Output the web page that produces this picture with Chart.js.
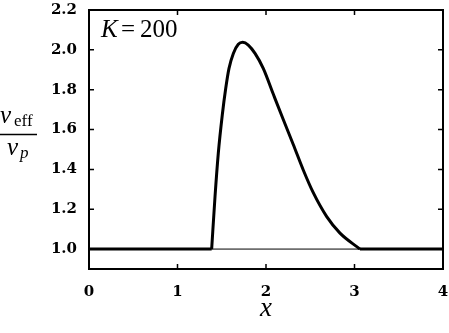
<!DOCTYPE html>
<html>
<head>
<meta charset="utf-8">
<script src="https://cdn.jsdelivr.net/npm/chart.js@4"></script>
<style>
  body { margin: 0; background: #fff; }
  #wrap { width: 449px; height: 333px; position: relative; }
</style>
</head>
<body>
<div id="wrap"><canvas id="chart"></canvas></div>
<script>
// nu_eff / nu_p vs x, K=200

// hump part
const curveX = [1.386, 1.424, 1.461, 1.506, 1.545, 1.582, 1.631, 1.687, 1.737, 1.800, 1.876, 1.969, 2.082, 2.195, 2.308, 2.421, 2.534, 2.686, 2.836, 3.062];
const curveY = [1.0, 1.264, 1.481, 1.673, 1.807, 1.907, 1.982, 2.028, 2.038, 2.024, 1.982, 1.907, 1.778, 1.650, 1.525, 1.397, 1.283, 1.163, 1.080, 1.0];

// flat parts (thick), gap in the middle
const flatX = [0, 1.386, 2.2, 3.062, 4];
const flatY = [1, 1, null, 1, 1];

// thin reference line at 1
const refX = [0, 4];
const refY = [1, 1];

const xTicks = [0, 1, 2, 3, 4];
const yTicks = [1.0, 1.2, 1.4, 1.6, 1.8, 2.0, 2.2];

const toPts = (xs, ys) => xs.map((x, i) => ({ x, y: ys[i] }));

const tickFont = { family: 'DejaVu Serif', size: 15, weight: 'bold' };

// kill the label overflow padding so the plot box sits where we want it
const noPad = s => { s.paddingTop = 0; s.paddingBottom = 0; s.paddingLeft = 0; s.paddingRight = 0; };

const frame = {
  id: 'frame',
  afterDraw(chart){
    const { ctx, chartArea: a, scales } = chart;
    const xs = scales.x, ys = scales.y;
    ctx.save();
    ctx.strokeStyle = '#000';
    ctx.lineWidth = 2;
    ctx.strokeRect(a.left, a.top, a.right - a.left, a.bottom - a.top);

    // inward ticks
    ctx.lineWidth = 1.5;
    ctx.beginPath();
    xTicks.forEach(v => {
      const px = xs.getPixelForValue(v);
      ctx.moveTo(px, a.bottom); ctx.lineTo(px, a.bottom - 5);
      ctx.moveTo(px, a.top); ctx.lineTo(px, a.top + 5);
    });
    yTicks.forEach(v => {
      const py = ys.getPixelForValue(v);
      ctx.moveTo(a.left, py); ctx.lineTo(a.left + 5, py);
      ctx.moveTo(a.right, py); ctx.lineTo(a.right - 5, py);
    });
    ctx.stroke();

    ctx.fillStyle = '#000';
    ctx.textBaseline = 'alphabetic';

    // K=200
    ctx.font = 'italic 25px "Liberation Serif"';
    ctx.fillText('K', 101, 37);
    ctx.font = '25px "Liberation Serif"';
    ctx.fillText('=', 121, 37);
    ctx.fillText('200', 140, 37);

    // x axis title
    ctx.font = 'italic 27px "Liberation Serif"';
    ctx.textAlign = 'center';
    ctx.fillText('x', xs.getPixelForValue(2), 316);

    // y axis title: nu_eff / nu_p
    ctx.textAlign = 'left';
    ctx.font = 'italic 25px "Liberation Serif"';
    ctx.fillText('\u03bd', 0, 123);
    ctx.font = '17px "Liberation Serif"';
    ctx.fillText('eff', 14, 126);
    ctx.lineWidth = 1.5;
    ctx.beginPath();
    ctx.moveTo(0, 134.5); ctx.lineTo(37, 134.5);
    ctx.stroke();
    ctx.font = 'italic 25px "Liberation Serif"';
    ctx.fillText('\u03bd', 7, 155);
    ctx.font = 'italic 17px "Liberation Serif"';
    ctx.fillText('p', 20, 158);
    ctx.restore();
  }
};

new Chart(document.getElementById('chart'), {
  type: 'line',
  data: {
    datasets: [
      {
        data: toPts(refX, refY),
        borderColor: '#000',
        borderWidth: 1,
        pointRadius: 0,
        tension: 0
      },
      {
        data: toPts(flatX, flatY),
        borderColor: '#000',
        borderWidth: 3,
        pointRadius: 0,
        spanGaps: false,
        tension: 0
      },
      {
        data: toPts(curveX, curveY),
        borderColor: '#000',
        borderWidth: 3,
        pointRadius: 0,
        cubicInterpolationMode: 'monotone'
      }
    ]
  },
  options: {
    responsive: true,
    maintainAspectRatio: false,
    animation: false,
    layout: { padding: { top: 10, right: 6, left: 0, bottom: 0 } },
    plugins: { legend: { display: false }, tooltip: { enabled: false } },
    scales: {
      x: {
        type: 'linear',
        min: 0,
        max: 4,
        grid: { display: false, drawTicks: false },
        border: { display: false },
        afterBuildTicks: s => { s.ticks = xTicks.map(v => ({ value: v })); },
        afterFit: s => { s.height = 64; noPad(s); },
        ticks: {
          color: '#000',
          font: tickFont,
          padding: 14,
          maxRotation: 0,
          callback: v => String(v)
        }
      },
      y: {
        type: 'linear',
        min: 0.9,
        max: 2.2,
        grid: { display: false, drawTicks: false },
        border: { display: false },
        afterBuildTicks: s => { s.ticks = yTicks.map(v => ({ value: v })); },
        afterFit: s => { s.width = 89; noPad(s); },
        ticks: {
          color: '#000',
          font: tickFont,
          padding: 12,
          callback: v => Number(v).toFixed(1)
        }
      }
    }
  },
  plugins: [frame]
});
</script>
</body>
</html>
